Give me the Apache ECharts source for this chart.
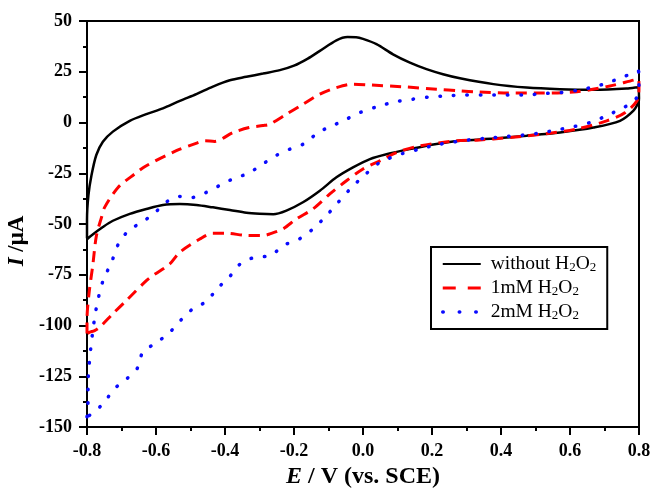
<!DOCTYPE html>
<html>
<head>
<meta charset="utf-8">
<title>Cyclic voltammograms</title>
<script src="https://cdn.jsdelivr.net/npm/echarts@6/dist/echarts.min.js"></script>
<style>
  html, body { margin: 0; padding: 0; background: #fff; }
  #chart { width: 654px; height: 492px; }
</style>
</head>
<body>
<div id="chart"></div>
<script>
// Potential (V vs. SCE) and current (µA) pairs, forward and reverse sweeps
const blankForward = [
  [-0.800,-57],[-0.800,-48],[-0.796,-36],[-0.787,-26],[-0.773,-16],[-0.754,-9.5],
  [-0.725,-4.5],[-0.676,0.8],[-0.628,4.1],[-0.580,7],[-0.531,10.7],[-0.483,14],
  [-0.435,17.7],[-0.386,20.8],[-0.338,22.5],[-0.290,24.1],[-0.241,25.8],[-0.200,28],
  [-0.160,31.5],[-0.125,35.3],[-0.077,40.5],[-0.045,42.1],[-0.020,42.0],[0.000,41.2],
  [0.039,38.6],[0.087,33.6],[0.136,29.5],[0.184,26.3],[0.232,23.8],[0.281,21.8],
  [0.378,18.9],[0.474,17.2],[0.571,16.4],[0.668,16.1],[0.764,16.7],[0.798,17.4]
];
const blankReverse = [
  [0.800,12],[0.798,9.8],[0.784,5.8],[0.745,0.8],[0.668,-2.5],[0.571,-4.9],
  [0.474,-6.5],[0.378,-7.9],[0.281,-9],[0.213,-10.6],[0.136,-13.1],[0.068,-15.6],
  [0.020,-18],[-0.029,-22.1],[-0.077,-27],[-0.125,-33.6],[-0.174,-39.3],[-0.222,-43.4],
  [-0.260,-45.2],[-0.300,-45],[-0.338,-44.5],[-0.386,-43.1],[-0.435,-41.8],[-0.483,-40.6],
  [-0.531,-40.1],[-0.580,-40.6],[-0.628,-42.6],[-0.676,-45],[-0.725,-48.4],[-0.754,-51.5],
  [-0.790,-56],[-0.800,-57.5]
];
const oneMForward = [
  [-0.800,-104],[-0.800,-97],[-0.794,-84],[-0.783,-70],[-0.773,-56],[-0.758,-46.7],
  [-0.749,-41.8],[-0.710,-32],[-0.662,-25.4],[-0.628,-21.3],[-0.541,-13.9],[-0.480,-10],
  [-0.459,-9],[-0.430,-9.3],[-0.377,-5],[-0.330,-2.5],[-0.290,-1.5],[-0.270,-0.8],
  [-0.222,4.1],[-0.174,9],[-0.125,14],[-0.077,17.2],[-0.029,18.9],[0.020,18.5],
  [0.116,17.6],[0.213,16.4],[0.281,15.6],[0.330,15.1],[0.426,14.5],[0.523,14.5],
  [0.620,15.2],[0.716,18],[0.798,21.3]
];
const oneMReverse = [
  [0.800,18],[0.798,12.3],[0.760,4.9],[0.706,0.8],[0.620,-3.2],[0.523,-5.7],
  [0.426,-7.4],[0.330,-8.7],[0.271,-9],[0.165,-11.5],[0.097,-14.8],[0.050,-18.8],
  [0.000,-22.9],[-0.048,-28.7],[-0.096,-35.2],[-0.145,-42.6],[-0.193,-47.5],[-0.232,-52.4],
  [-0.270,-54.9],[-0.290,-55.7],[-0.340,-55.6],[-0.396,-54.6],[-0.435,-54.6],[-0.473,-57.4],
  [-0.531,-63.9],[-0.560,-69.7],[-0.609,-75.4],[-0.628,-77.9],[-0.686,-87.7],[-0.725,-94.2],
  [-0.763,-100.8],[-0.778,-102.5],[-0.792,-103.3],[-0.800,-104]
];
const twoMForward = [
  [-0.800,-145],[-0.797,-137],[-0.797,-128.7],[-0.794,-120],[-0.789,-111],[-0.783,-102.5],
  [-0.776,-94.2],[-0.766,-85.7],[-0.752,-77.2],[-0.729,-68.9],[-0.710,-60.2],[-0.681,-53.5],
  [-0.642,-49.2],[-0.607,-45.1],[-0.572,-39.4],[-0.533,-36.4],[-0.494,-36.9],[-0.454,-34.4],
  [-0.413,-30.8],[-0.372,-27.4],[-0.333,-25.1],[-0.291,-20.5],[-0.251,-16.2],[-0.212,-13.1],
  [-0.169,-10.3],[-0.130,-4.9],[-0.096,-2.1],[-0.053,1.2],[-0.009,4.9],[0.049,8.2],
  [0.097,10.3],[0.145,11.5],[0.194,12.6],[0.242,13.1],[0.289,13.5],[0.378,13.5],
  [0.474,13.6],[0.527,14.3],[0.576,14.8],[0.624,15.9],[0.672,17.7],[0.706,19.4],
  [0.755,22.5],[0.798,25.4]
];
const twoMReverse = [
  [0.800,20],[0.795,13],[0.780,9.5],[0.755,7.4],[0.706,3.3],[0.658,0],[0.609,-2.1],
  [0.561,-3.7],[0.513,-5.2],[0.464,-6.2],[0.416,-6.9],[0.363,-7.7],[0.310,-8.5],
  [0.213,-11],[0.165,-13.1],[0.116,-15.2],[0.049,-19.7],[0.008,-25.4],[-0.033,-32],
  [-0.072,-39.3],[-0.106,-45.9],[-0.145,-52.4],[-0.185,-57.4],[-0.227,-60.3],[-0.270,-65.6],
  [-0.314,-66.4],[-0.354,-69.4],[-0.388,-76.2],[-0.423,-81.9],[-0.454,-88.2],[-0.491,-91.5],
  [-0.526,-97],[-0.560,-103.3],[-0.599,-108.5],[-0.638,-113.1],[-0.655,-121.3],[-0.688,-126.7],
  [-0.720,-131.1],[-0.752,-138.2],[-0.781,-142.9],[-0.800,-145]
];

const seriesNames = ['without H2O2', '1mM H2O2', '2mM H2O2'];
const xTicks = { min: -0.8, max: 0.8, step: 0.2 };
const yTicks = { min: -150, max: 50, step: 25 };

const serif = "'Times New Roman', 'Liberation Serif', serif";

const chart = echarts.init(document.getElementById('chart'), null, { renderer: 'canvas' });

const axisCommon = {
  type: 'value',
  axisLine: { show: true, onZero: false, lineStyle: { color: '#000', width: 2 } },
  axisTick: { show: true, inside: false, length: 8, lineStyle: { color: '#000', width: 2 } },
  minorTick: { show: true, splitNumber: 2, length: 4, lineStyle: { color: '#000', width: 2 } },
  splitLine: { show: false },
  minorSplitLine: { show: false },
  axisLabel: { color: '#000', fontFamily: serif, fontWeight: 'bold', fontSize: 18 }
};

chart.setOption({
  animation: false,
  backgroundColor: '#fff',
  grid: {
    left: 87, right: 15, top: 21, bottom: 65,
    outerBoundsMode: 'none',
    containLabel: false,
    show: true, borderColor: '#000', borderWidth: 2, backgroundColor: 'transparent'
  },
  xAxis: Object.assign({}, axisCommon, {
    min: xTicks.min, max: xTicks.max, interval: xTicks.step,
    axisLabel: Object.assign({}, axisCommon.axisLabel, {
      margin: 15,
      formatter: v => v.toFixed(1)
    }),
    name: '{i|E} / V (vs. SCE)',
    nameLocation: 'middle',
    nameGap: 37,
    nameTextStyle: {
      color: '#000', fontFamily: serif, fontWeight: 'bold', fontSize: 24,
      rich: { i: { fontFamily: serif, fontWeight: 'bold', fontStyle: 'italic', fontSize: 24, color: '#000' } }
    }
  }),
  yAxis: Object.assign({}, axisCommon, {
    min: yTicks.min, max: yTicks.max, interval: yTicks.step,
    axisLabel: Object.assign({}, axisCommon.axisLabel, { margin: 15 }),
    name: '{i|I} /μA',
    nameLocation: 'middle',
    nameGap: 55,
    nameTextStyle: {
      color: '#000', fontFamily: serif, fontWeight: 'bold', fontSize: 23,
      padding: [0, 34, 0, 0],
      rich: { i: { fontFamily: serif, fontWeight: 'bold', fontStyle: 'italic', fontSize: 23, color: '#000' } }
    }
  }),
  legend: {
    orient: 'vertical',
    left: 431, top: 247,
    padding: [7, 11, 7, 10],
    itemGap: 4,
    itemWidth: 38,
    itemHeight: 14,
    borderColor: '#000',
    borderWidth: 2,
    backgroundColor: '#fff',
    selectedMode: false,
    itemStyle: { opacity: 0 },
    formatter: name => ' ' + name.replace('H2O2', 'H{s|2}O{s|2}'),
    textStyle: {
      color: '#000', fontFamily: serif, fontSize: 19.5, lineHeight: 20,
      rich: { s: { fontFamily: serif, fontSize: 13, color: '#000', verticalAlign: 'bottom', lineHeight: 20 } }
    },
    data: [
      { name: seriesNames[0] },
      { name: seriesNames[1], lineStyle: { type: [13, 12], width: 3 } },
      { name: seriesNames[2], lineStyle: { type: [0.5, 16], width: 3.5, cap: 'round' } }
    ]
  },
  series: [
    {
      name: seriesNames[0], type: 'line', symbol: 'none', smooth: 0.3,
      data: blankForward.concat(blankReverse),
      lineStyle: { color: '#000', width: 2.5 },
      itemStyle: { color: '#000' }
    },
    {
      name: seriesNames[1], type: 'line', symbol: 'none', smooth: 0.3,
      data: oneMForward.concat(oneMReverse),
      lineStyle: { color: '#ff0000', width: 3, type: [11, 7] },
      itemStyle: { color: '#ff0000' }
    },
    {
      name: seriesNames[2], type: 'line', symbol: 'none', smooth: 0.3,
      data: twoMForward.concat(twoMReverse),
      lineStyle: { color: '#0a0aff', width: 3.5, type: [0.5, 13], cap: 'round' },
      itemStyle: { color: '#0a0aff' }
    }
  ]
});
</script>
</body>
</html>
